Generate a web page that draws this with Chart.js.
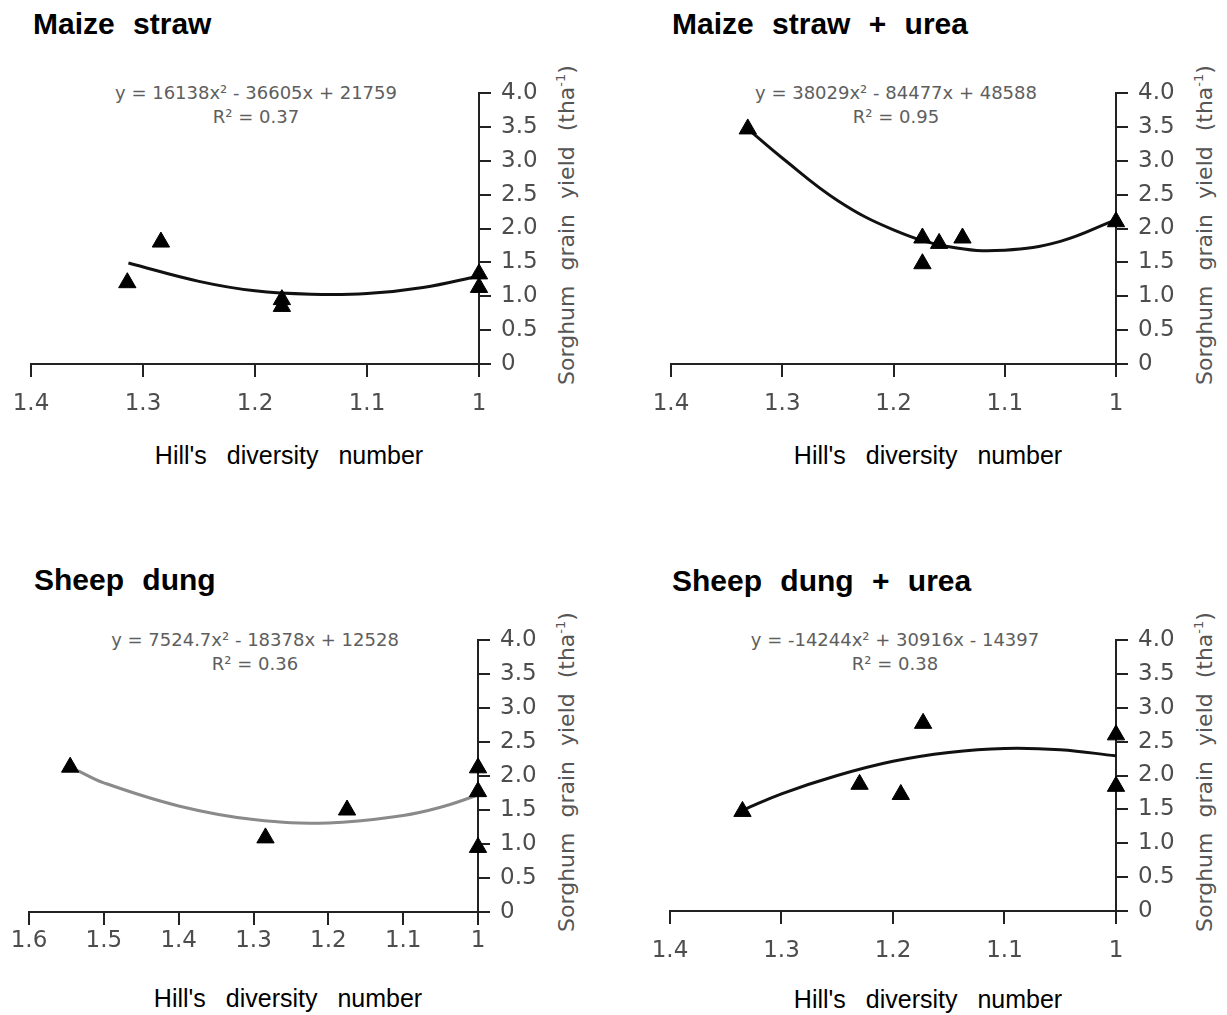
<!DOCTYPE html>
<html>
<head>
<meta charset="utf-8">
<script src="https://cdn.jsdelivr.net/npm/chart.js@4.4.0/dist/chart.umd.min.js"></script>
<style>
  body { margin: 0; background: #fff; width: 1227px; height: 1015px; position: relative; overflow: hidden; }
  canvas { position: absolute; }
  .title { position: absolute; font: bold 30px "Liberation Sans", Arial, sans-serif; word-spacing: 10px; line-height: 1; transform: translateY(-50%); white-space: nowrap; color: #000; }
  .xtitle { position: absolute; font: 25px "Liberation Sans", Arial, sans-serif; word-spacing: 13px; transform: translate(-50%, -50%); white-space: nowrap; color: #000; }
  .eq { position: absolute; font: 18px "DejaVu Sans", sans-serif; color: #5e5e5e; text-align: center; line-height: 24px; transform: translate(-50%, -12px); white-space: nowrap; }
  .ytitle { position: absolute; font: 22px "DejaVu Sans", sans-serif; color: #555; word-spacing: 8px; transform: translate(-50%, -50%) rotate(-90deg); white-space: nowrap; }
  .ytitle sup { font-size: 13px; }
</style>
</head>
<body>

<div class="title" style="left:33px; top:24px">Maize straw</div>
<div class="title" style="left:672px; top:24px">Maize straw + urea</div>
<div class="title" style="left:34px; top:580px">Sheep dung</div>
<div class="title" style="left:672px; top:581px">Sheep dung + urea</div>

<div class="eq" style="left:256px; top:93px">y = 16138x² - 36605x + 21759<br>R² = 0.37</div>
<div class="eq" style="left:896px; top:93px">y = 38029x² - 84477x + 48588<br>R² = 0.95</div>
<div class="eq" style="left:255px; top:640px">y = 7524.7x² - 18378x + 12528<br>R² = 0.36</div>
<div class="eq" style="left:895px; top:640px">y = -14244x² + 30916x - 14397<br>R² = 0.38</div>

<div class="xtitle" style="left:289px; top:455px">Hill's diversity number</div>
<div class="xtitle" style="left:928px; top:455px">Hill's diversity number</div>
<div class="xtitle" style="left:288px; top:998px">Hill's diversity number</div>
<div class="xtitle" style="left:928px; top:999px">Hill's diversity number</div>

<div class="ytitle" style="left:566px; top:225px">Sorghum grain yield (tha<sup>-1</sup>)</div>
<div class="ytitle" style="left:1204px; top:225px">Sorghum grain yield (tha<sup>-1</sup>)</div>
<div class="ytitle" style="left:566px; top:772px">Sorghum grain yield (tha<sup>-1</sup>)</div>
<div class="ytitle" style="left:1204px; top:772px">Sorghum grain yield (tha<sup>-1</sup>)</div>

<canvas id="c1"></canvas>
<canvas id="c2"></canvas>
<canvas id="c3"></canvas>
<canvas id="c4"></canvas>

<script>
// tick values and labels
const xTicksShort = [1, 1.1, 1.2, 1.3, 1.4]
const xLabelsShort = ['1', '1.1', '1.2', '1.3', '1.4']
const xTicksLong = [1, 1.1, 1.2, 1.3, 1.4, 1.5, 1.6]
const xLabelsLong = ['1', '1.1', '1.2', '1.3', '1.4', '1.5', '1.6']
const yTicks = [0, 0.5, 1, 1.5, 2, 2.5, 3, 3.5, 4]
const yLabels = ['0', '0.5', '1.0', '1.5', '2.0', '2.5', '3.0', '3.5', '4.0']

// Maize straw
const maizeStrawX = [1.314, 1.284, 1.176, 1.176, 1.0, 1.0]
const maizeStrawY = [1.2, 1.8, 0.95, 0.85, 1.33, 1.13]
const maizeStrawFitX = [1.313, 1.25, 1.2, 1.15, 1.1, 1.05, 1.0]
const maizeStrawFitY = [1.49, 1.22, 1.08, 1.03, 1.04, 1.13, 1.30]

// Maize straw + urea
const maizeUreaX = [1.331, 1.174, 1.174, 1.159, 1.138, 1.0]
const maizeUreaY = [3.47, 1.86, 1.48, 1.78, 1.86, 2.1]
const maizeUreaFitX = [1.331, 1.3, 1.25, 1.2, 1.15, 1.1, 1.05, 1.0]
const maizeUreaFitY = [3.47, 3.04, 2.41, 1.98, 1.73, 1.68, 1.81, 2.13]

// Sheep dung
const sheepDungX = [1.545, 1.284, 1.175, 1.0, 1.0, 1.0]
const sheepDungY = [2.13, 1.09, 1.5, 2.12, 1.77, 0.95]
const sheepDungFitX = [1.535, 1.5, 1.4, 1.3, 1.2, 1.1, 1.05, 1.0]
const sheepDungFitY = [2.08, 1.90, 1.56, 1.36, 1.31, 1.42, 1.54, 1.72]

// Sheep dung + urea
const sheepUreaX = [1.335, 1.23, 1.193, 1.173, 1.0, 1.0]
const sheepUreaY = [1.47, 1.87, 1.72, 2.77, 2.6, 1.84]
const sheepUreaFitX = [1.333, 1.3, 1.25, 1.2, 1.15, 1.1, 1.05, 1.0]
const sheepUreaFitY = [1.5, 1.73, 2.0, 2.21, 2.34, 2.4, 2.38, 2.29]

const toPoints = (xs, ys) => xs.map((x, i) => ({ x: x, y: ys[i] }))

const tickFont = { family: 'DejaVu Sans', size: 23 }
const PAD = 40, RIGHT_W = 100, BOTTOM_H = 70

// box = chart area in page pixels
const makeChart = (id, box, xTicks, xLabels, xs, ys, fitXs, fitYs, fitColor, xPad) => {
  const canvas = document.getElementById(id)
  canvas.width = box.r - box.l + PAD + RIGHT_W
  canvas.height = box.b - box.t + PAD + BOTTOM_H
  canvas.style.left = (box.l - PAD) + 'px'
  canvas.style.top = (box.t - PAD) + 'px'

  new Chart(canvas, {
    type: 'scatter',
    data: {
      datasets: [
        {
          data: toPoints(xs, ys),
          pointStyle: 'triangle',
          pointRadius: 10,
          pointBackgroundColor: '#000',
          pointBorderColor: '#000',
          pointBorderWidth: 1,
          showLine: false,
          clip: false
        },
        {
          data: toPoints(fitXs, fitYs),
          showLine: true,
          pointRadius: 0,
          borderColor: fitColor,
          borderWidth: 3,
          tension: 0.4,
          clip: false
        }
      ]
    },
    options: {
      responsive: false,
      animation: false,
      layout: { padding: { left: PAD, top: PAD, right: 0, bottom: 0 } },
      plugins: { legend: { display: false }, tooltip: { enabled: false } },
      scales: {
        x: {
          type: 'linear',
          min: 1,
          max: xTicks[xTicks.length - 1],
          reverse: true,
          afterBuildTicks: s => { s.ticks = xTicks.map(v => ({ value: v })) },
          afterFit: s => { s.height = BOTTOM_H },
          ticks: {
            autoSkip: false,
            maxRotation: 0,
            padding: xPad,
            color: '#4d4d4d',
            font: tickFont,
            callback: (v, i) => xLabels[i]
          },
          grid: { drawOnChartArea: false, drawTicks: true, tickLength: 13, color: '#222', lineWidth: 2 },
          border: { color: '#222', width: 2 }
        },
        y: {
          type: 'linear',
          position: 'right',
          min: 0,
          max: 4,
          afterBuildTicks: s => { s.ticks = yTicks.map(v => ({ value: v })) },
          afterFit: s => { s.width = RIGHT_W },
          ticks: {
            autoSkip: false,
            padding: 10,
            color: '#4d4d4d',
            font: tickFont,
            callback: (v, i) => yLabels[i]
          },
          grid: { drawOnChartArea: false, drawTicks: true, tickLength: 12, color: '#222', lineWidth: 2 },
          border: { color: '#222', width: 2 }
        }
      }
    }
  })
}

makeChart('c1', { l: 31, r: 479, t: 93, b: 364 }, xTicksShort, xLabelsShort,
  maizeStrawX, maizeStrawY, maizeStrawFitX, maizeStrawFitY, '#111', 13)
makeChart('c2', { l: 671, r: 1116, t: 93, b: 364 }, xTicksShort, xLabelsShort,
  maizeUreaX, maizeUreaY, maizeUreaFitX, maizeUreaFitY, '#111', 13)
makeChart('c3', { l: 29, r: 478, t: 640, b: 912 }, xTicksLong, xLabelsLong,
  sheepDungX, sheepDungY, sheepDungFitX, sheepDungFitY, '#8a8a8a', 2)
makeChart('c4', { l: 670, r: 1116, t: 640, b: 911 }, xTicksShort, xLabelsShort,
  sheepUreaX, sheepUreaY, sheepUreaFitX, sheepUreaFitY, '#111', 13)
</script>
</body>
</html>
